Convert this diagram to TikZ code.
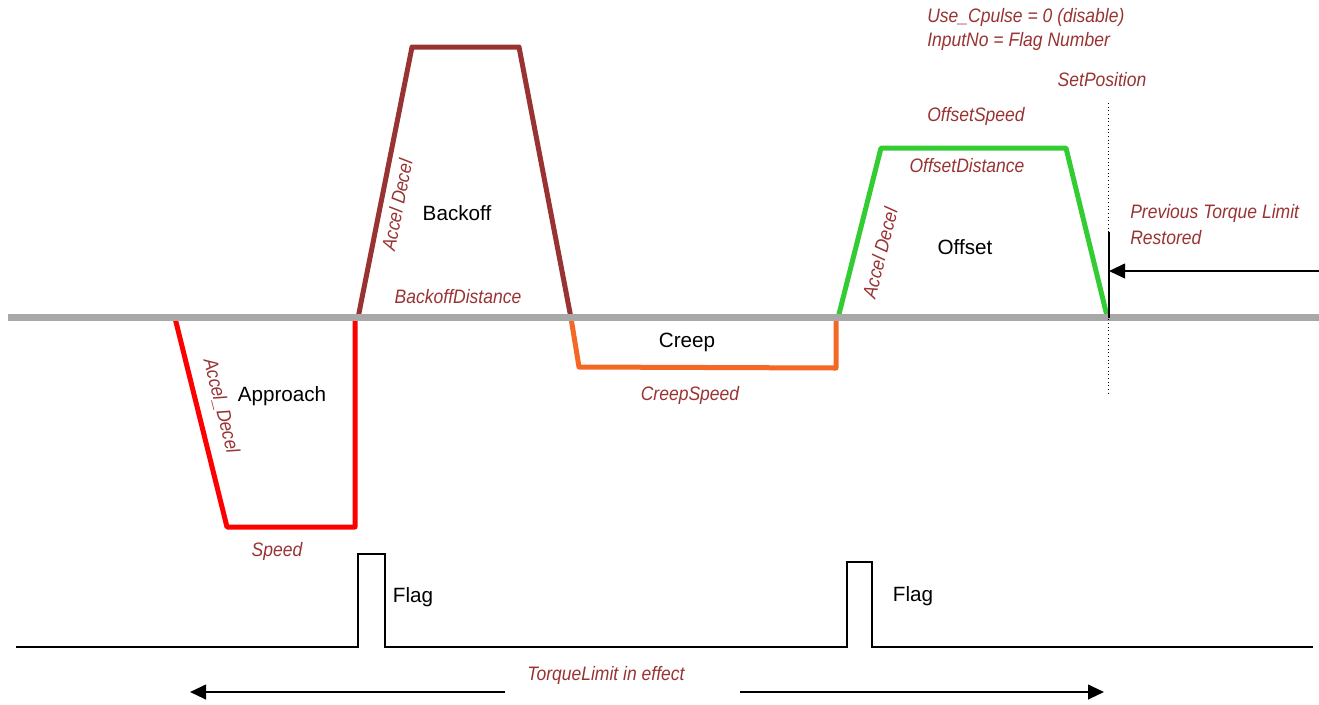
\documentclass[tikz,border=0pt]{standalone}
\usepackage{fontspec}
\setmainfont{Liberation Sans}
\newfontfamily\labelfont[FakeStretch=0.9]{Liberation Sans}
\usetikzlibrary{arrows.meta}

\definecolor{labelred}{RGB}{153,51,51}
\definecolor{approachred}{RGB}{255,0,0}
\definecolor{backoffbrown}{RGB}{153,51,51}
\definecolor{creeporange}{RGB}{242,104,36}
\definecolor{offsetgreen}{RGB}{51,204,51}
\definecolor{axisgray}{RGB}{168,168,168}

\begin{document}
\begin{tikzpicture}[x=0.75pt, y=-0.75pt,
    main node/.style={font=\fontsize{15.5}{18}\selectfont, inner sep=0pt},
    label node/.style={font=\labelfont\itshape\fontsize{14.6}{18}\selectfont, text=labelred, inner sep=0pt},
    profile/.style={line width=3.75pt, line join=round, line cap=round},
    signal/.style={line width=1.5pt},
    head/.style={-{Triangle[length=12pt, width=11pt]}, line width=1.5pt}]

  \useasboundingbox (0,0) rectangle (1319,704);

  % speed profile corners
  \coordinate (a0) at (175,318);
  \coordinate (a1) at (227,527);
  \coordinate (a2) at (355,527);
  \coordinate (a3) at (355,318);

  \coordinate (b0) at (358,318);
  \coordinate (b1) at (412,47);
  \coordinate (b2) at (519,47);
  \coordinate (b3) at (571,318);

  \coordinate (c0) at (571,318);
  \coordinate (c1) at (579,367);
  \coordinate (c2) at (836,368);
  \coordinate (c3) at (836,318);

  \coordinate (o0) at (838,318);
  \coordinate (o1) at (881,148);
  \coordinate (o2) at (1066,148);
  \coordinate (o3) at (1107,316);

  \draw[profile, approachred] (a0) -- (a1) -- (a2) -- (a3);
  \draw[profile, backoffbrown] (b0) -- (b1) -- (b2) -- (b3);
  \draw[profile, creeporange] (c0) -- (c1) -- (c2) -- (c3);
  \draw[profile, offsetgreen] (o0) -- (o1) -- (o2) -- (o3);

  % zero speed axis
  \coordinate (axisL) at (8,317);
  \coordinate (axisR) at (1319,317);
  \draw[axisgray, line width=5.25pt] (axisL) -- (axisR);

  % set position marker
  \coordinate (spTop) at (1108,103);
  \coordinate (spBot) at (1108,395);
  \draw[line width=0.75pt, dotted] (spTop) -- (spBot);

  \coordinate (tqTop) at (1109,232);
  \coordinate (tqBot) at (1109,318);
  \coordinate (tqIn) at (1319,271);
  \coordinate (tqTip) at (1109,271);
  \draw[signal] (tqTop) -- (tqBot);
  \draw[head] (tqIn) -- (tqTip);

  % flag input
  \coordinate (f0) at (16,647);
  \coordinate (f1) at (358,647);
  \coordinate (f2) at (358,554);
  \coordinate (f3) at (385,554);
  \coordinate (f4) at (385,647);
  \coordinate (g1) at (847,647);
  \coordinate (g2) at (847,562);
  \coordinate (g3) at (872,562);
  \coordinate (g4) at (872,647);
  \coordinate (f5) at (1313,647);
  \draw[signal, line join=miter] (f0) -- (f1) -- (f2) -- (f3) -- (f4) -- (g1) -- (g2) -- (g3) -- (g4) -- (f5);

  % torque limit arrows
  \coordinate (tlA) at (505,692);
  \coordinate (tlB) at (190,692);
  \coordinate (tlC) at (740,692);
  \coordinate (tlD) at (1104,692);
  \draw[head] (tlA) -- (tlB);
  \draw[head] (tlC) -- (tlD);

  % phase names
  \node[main node] (approach) at (282,396) {Approach};
  \node[main node] (backoff) at (457,213) {Backoff};
  \node[main node] (creep) at (687,342) {Creep};
  \node[main node] (offset) at (965,247) {Offset};
  \node[main node] (flag1) at (413,597) {Flag};
  \node[main node] (flag2) at (913,596) {Flag};

  % parameters
  \node[label node, rotate=-76] (accA) at (221,406) {Accel\_Decel};
  \node[label node, rotate=78.7] (accB) at (397,205) {Accel Decel};
  \node[label node, rotate=75.8] (accO) at (880,253) {Accel Decel};
  \node[label node] (speed) at (277,551) {Speed};
  \node[label node] (bdist) at (458,297) {BackoffDistance};
  \node[label node] (cspeed) at (690,395) {CreepSpeed};
  \node[label node] (ospeed) at (976,116) {OffsetSpeed};
  \node[label node] (odist) at (967,166) {OffsetDistance};
  \node[label node] (setpos) at (1102,80) {SetPosition};
  \node[label node, anchor=west] (cpulse) at (927,17) {Use\_Cpulse = 0 (disable)};
  \node[label node, anchor=west] (inputno) at (927,41) {InputNo = Flag Number};
  \node[label node, anchor=west] (prev) at (1130,213) {Previous Torque Limit};
  \node[label node, anchor=west] (restored) at (1130,238) {Restored};
  \node[label node] (tlimit) at (606,675) {TorqueLimit in effect};

\end{tikzpicture}
\end{document}
